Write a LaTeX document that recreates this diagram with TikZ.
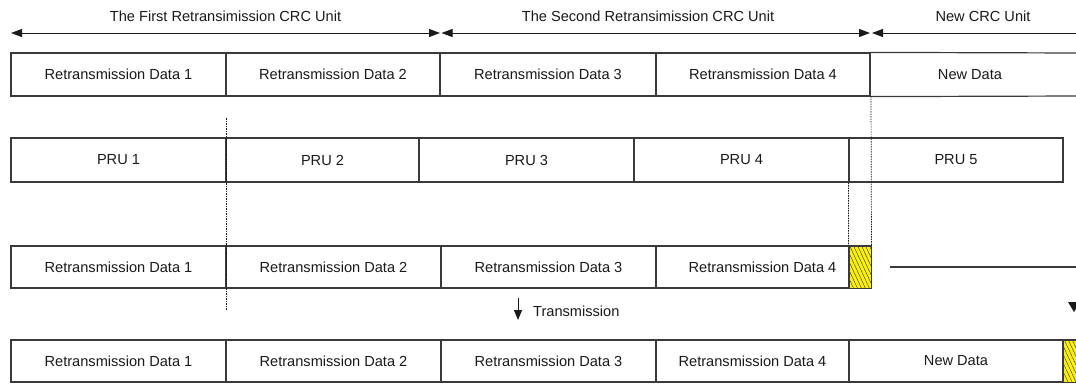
\documentclass[tikz,border=0pt]{standalone}
\usepackage{fontspec}
\setmainfont{Liberation Sans}
\usetikzlibrary{arrows.meta,patterns.meta}
\definecolor{edge}{HTML}{3A3A3A}
\definecolor{ink}{HTML}{1A1A1A}
\tikzset{
  cell/.style={draw=edge, line width=1.2pt, rectangle, inner sep=0pt, text=ink,
    font=\fontsize{14.6}{16}\selectfont},
  lbl/.style={inner sep=0pt, text=ink, font=\fontsize{14.6}{16}\selectfont},
  dimarrow/.style={draw=ink, line width=1pt},
  tipL/.style={{Triangle[length=11pt,width=8pt]}-},
  tipLR/.style={{Triangle[length=11pt,width=8pt]}-{Triangle[length=11pt,width=8pt]}},
  guide/.style={draw=ink, line width=0.7pt, dash pattern=on 1.5pt off 1pt},
  hatchbox/.style={fill=yellow, draw=edge, line width=1pt},
  hatchlines/.style={pattern={Lines[angle=-65,distance=3.6pt,line width=0.5pt]}, pattern color=ink!80},
}
\begin{document}
\begin{tikzpicture}[x=1pt,y=-1pt]
\useasboundingbox (0,0) rectangle (1076,383);
\clip (0,0) rectangle (1076,383);
\fill[white] (0,0) rectangle (1076,383);

% top labels and dimension arrows
\node[lbl] (lab1) at (225.5,16) {The First Retransimission CRC Unit};
\node[lbl] (lab2) at (648,16) {The Second Retransimission CRC Unit};
\node[lbl] (lab3) at (983,16) {New CRC Unit};
\coordinate (a1s) at (11,33);
\coordinate (a1e) at (440,33);
\coordinate (a2s) at (441.5,33);
\coordinate (a2e) at (870,33);
\coordinate (a3s) at (872,33);
\coordinate (a3e) at (1080,33);
\draw[dimarrow,tipLR] (a1s) -- (a1e);
\draw[dimarrow,tipLR] (a2s) -- (a2e);
\draw[dimarrow,tipL] (a3s) -- (a3e);

% row 1
\node[cell,minimum width=215pt,minimum height=43pt] (r1a) at (118.5,74.5) {Retransmission Data 1};
\node[cell,minimum width=214pt,minimum height=43pt] (r1b) at (333,74.5) {Retransmission Data 2};
\node[cell,minimum width=216pt,minimum height=43pt] (r1c) at (548,74.5) {Retransmission Data 3};
\node[cell,minimum width=214pt,minimum height=43pt] (r1d) at (763,74.5) {Retransmission Data 4};
\node[lbl,minimum width=200pt,minimum height=43pt] (r1e) at (970,74.5) {New Data};
\draw[draw=edge,line width=1.2pt] (r1d.north east) -- (1080,53);
\draw[draw=edge,line width=1.2pt] (r1d.south east) -- (1080,96);

% PRU row
\node[cell,minimum width=215pt,minimum height=44pt] (p1) at (118.5,160) {PRU 1};
\node[cell,minimum width=193pt,minimum height=44pt] (p2) at (322.5,160) {PRU 2};
\node[cell,minimum width=215pt,minimum height=44pt] (p3) at (526.5,160) {PRU 3};
\node[cell,minimum width=215pt,minimum height=44pt] (p4) at (741.5,160) {PRU 4};
\node[cell,minimum width=214pt,minimum height=44pt] (p5) at (956,160) {PRU 5};

% row 3
\node[cell,minimum width=215pt,minimum height=42pt] (r3a) at (118.5,267) {Retransmission Data 1};
\node[cell,minimum width=215pt,minimum height=42pt] (r3b) at (333.5,267) {Retransmission Data 2};
\node[cell,minimum width=215pt,minimum height=42pt] (r3c) at (548.5,267) {Retransmission Data 3};
\node[cell,minimum width=193pt,minimum height=42pt] (r3d) at (752.5,267) {\hspace*{20pt}Retransmission Data 4};
\node[cell,hatchbox,minimum width=22pt,minimum height=42pt] (r3y) at (860,267) {};
\fill[hatchlines] (r3y.north west) rectangle (r3y.south east);
\draw[draw=edge,line width=1pt] (r3y.north west) rectangle (r3y.south east);
\coordinate (h3s) at (890,267);
\coordinate (h3e) at (1080,267);
\draw[draw=edge,line width=1.2pt] (h3s) -- (h3e);
\fill[ink] (1068,302) -- (1080,302) -- (1074,312) -- cycle;

% transmission arrow
\coordinate (ts) at (518,298);
\coordinate (te) at (518,320);
\draw[dimarrow,-{Triangle[length=10pt,width=8pt]}] (ts) -- (te);
\node[lbl,anchor=west] (tlab) at (533,311) {Transmission};

% row 4
\node[cell,minimum width=215pt,minimum height=42pt] (r4a) at (118.5,361) {Retransmission Data 1};
\node[cell,minimum width=215pt,minimum height=42pt] (r4b) at (333.5,361) {Retransmission Data 2};
\node[cell,minimum width=215pt,minimum height=42pt] (r4c) at (548.5,361) {Retransmission Data 3};
\node[cell,minimum width=193pt,minimum height=42pt] (r4d) at (752.5,361) {Retransmission Data 4};
\node[cell,minimum width=214pt,minimum height=42pt] (r4e) at (956,361) {New Data};
\node[cell,hatchbox,minimum width=22pt,minimum height=42pt] (r4y) at (1074,361) {};
\fill[hatchlines] (r4y.north west) rectangle (r4y.south east);
\draw[draw=edge,line width=1pt] (r4y.north west) rectangle (r4y.south east);

% dotted guide lines
\coordinate (g1s) at (226,118);
\coordinate (g1e) at (226,310);
\draw[guide] (g1s) -- (g1e);
\draw[guide] (p5.south west) -- (r3y.north west);
\coordinate (g3s) at (871,96);
\draw[guide] (g3s) -- (r3y.north east);
\end{tikzpicture}
\end{document}
